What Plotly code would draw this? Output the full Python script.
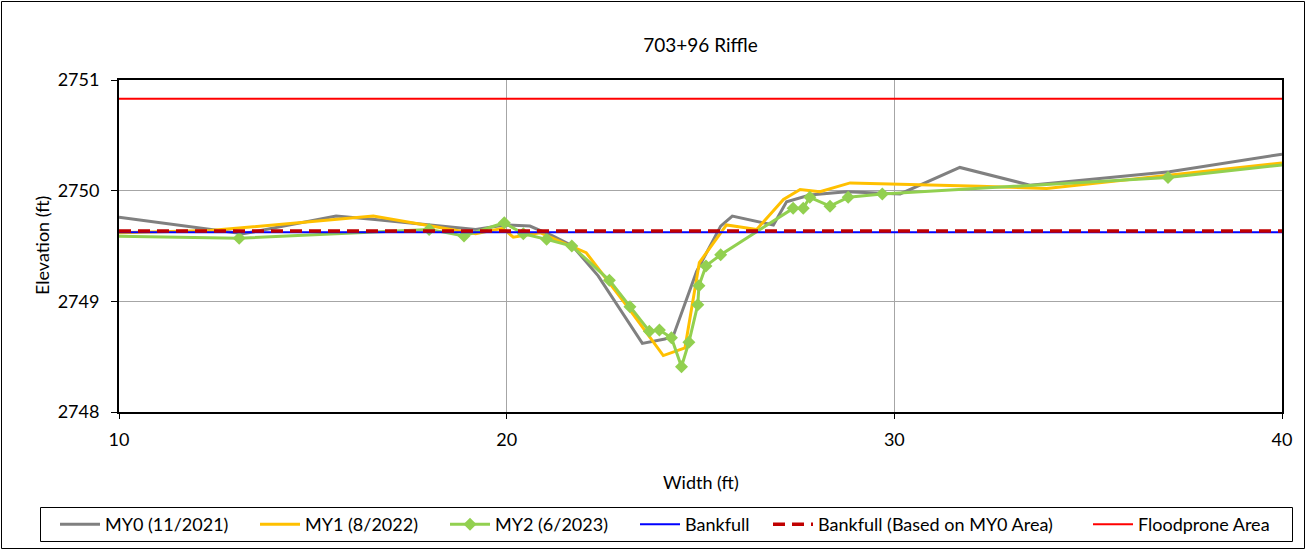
import plotly.graph_objects as go

# ---- data ----
my0_x = [10, 13.2, 15.6, 16.6, 19.2, 19.95, 20.6, 21.2, 21.7, 22.36, 23.5, 24.08, 24.3, 24.9,
         25.52, 25.82, 26.88, 27.22, 27.82, 28.77, 30.15, 31.69, 33.5, 37.1, 40]
my0_y = [2749.76, 2749.61, 2749.77, 2749.74, 2749.65, 2749.69, 2749.68, 2749.59, 2749.50, 2749.23,
         2748.62, 2748.66, 2748.69, 2749.27, 2749.68, 2749.77, 2749.69, 2749.90, 2749.96, 2749.99,
         2749.97, 2750.21, 2750.05, 2750.17, 2750.33]

my1_x = [10, 12.35, 16.56, 19.2, 19.9, 20.17, 20.86, 22.05, 23.1, 23.61, 24.04, 24.6, 24.97,
         25.67, 26.45, 27.14, 27.57, 28.08, 28.86, 32.2, 33.93, 40]
my1_y = [2749.62, 2749.64, 2749.77, 2749.61, 2749.66, 2749.58, 2749.62, 2749.44, 2748.96, 2748.72,
         2748.51, 2748.58, 2749.35, 2749.69, 2749.65, 2749.92, 2750.01, 2749.99, 2750.07, 2750.04,
         2750.02, 2750.25]

my2_x = [9.8, 13.1, 18.0, 18.9, 19.94, 20.43, 21.03, 21.68, 22.65, 23.18, 23.68, 23.94, 24.25,
         24.51, 24.70, 24.93, 24.96, 25.14, 25.52, 27.39, 27.65, 27.82, 28.34, 28.81, 29.69, 37.06, 40.2]
my2_y = [2749.59, 2749.57, 2749.65, 2749.59, 2749.71, 2749.61, 2749.56, 2749.50, 2749.19, 2748.95,
         2748.73, 2748.74, 2748.67, 2748.41, 2748.63, 2748.97, 2749.14, 2749.32, 2749.42, 2749.84,
         2749.84, 2749.94, 2749.86, 2749.94, 2749.97, 2750.12, 2750.24]

line_x = [10, 40]
bankfull_y = [2749.625, 2749.625]
bankfull_my0_y = [2749.635, 2749.635]
floodprone_y = [2750.83, 2750.83]

x_ticks = [10, 20, 30, 40]
y_ticks = [2748, 2749, 2750, 2751]

series_names = ["MY0 (11/2021)", "MY1 (8/2022)", "MY2 (6/2023)", "Bankfull",
                "Bankfull (Based on MY0 Area)", "Floodprone Area"]

FONT = "Lato"
FS = 18

W, H = 1306, 550
L, R, T, B = 119, 24, 80, 138
pw, ph = W - L - R, H - T - B

def px2paper_x(px):
    return (px - L) / pw

def px2paper_y(py):
    return (H - B - py) / ph

legend_ids = ["legend", "legend2", "legend3", "legend4", "legend5", "legend6"]
# left pixel of each legend entry's line sample
legend_left_px = [62, 262, 452, 642, 775, 1095]

fig = go.Figure()
fig.add_trace(go.Scatter(x=my0_x, y=my0_y, mode="lines", name=series_names[0], legend=legend_ids[0],
                         line=dict(color="#808080", width=3)))
fig.add_trace(go.Scatter(x=my1_x, y=my1_y, mode="lines", name=series_names[1], legend=legend_ids[1],
                         line=dict(color="#FFC000", width=3)))
fig.add_trace(go.Scatter(x=my2_x, y=my2_y, mode="lines+markers", name=series_names[2], legend=legend_ids[2],
                         line=dict(color="#92D050", width=3),
                         marker=dict(symbol="diamond", size=10, color="#92D050")))
fig.add_trace(go.Scatter(x=line_x, y=bankfull_y, mode="lines", name=series_names[3], legend=legend_ids[3],
                         line=dict(color="#0000FF", width=2)))
fig.add_trace(go.Scatter(x=line_x, y=bankfull_my0_y, mode="lines", name=series_names[4], legend=legend_ids[4],
                         line=dict(color="#C00000", width=3.5, dash="12px,7px")))
fig.add_trace(go.Scatter(x=line_x, y=floodprone_y, mode="lines", name=series_names[5], legend=legend_ids[5],
                         line=dict(color="#FF0000", width=2)))

legend_layouts = {}
for lid, lpx in zip(legend_ids, legend_left_px):
    legend_layouts[lid] = dict(orientation="h", x=px2paper_x(lpx - 7), xanchor="left",
                               y=px2paper_y(524.5), yanchor="middle",
                               borderwidth=0, bgcolor="rgba(0,0,0,0)",
                               font=dict(family=FONT, size=FS, color="#000000"), itemwidth=40)

fig.update_layout(
    width=W, height=H,
    margin=dict(l=L, r=R, t=T, b=B, autoexpand=False),
    paper_bgcolor="white", plot_bgcolor="white",
    font=dict(family=FONT, size=FS, color="#000000"),
    title=dict(text="703+96 Riffle", x=0.5, xref="paper", xanchor="center",
               y=1 - 45 / H, yref="container", yanchor="middle",
               font=dict(family=FONT, size=19, color="#000000")),
    xaxis=dict(range=[10, 40], tickvals=x_ticks, ticks="outside", ticklen=5, tickcolor="#000000",
               showline=True, linecolor="#000000", linewidth=2, mirror=True,
               showgrid=True, gridcolor="#A6A6A6", gridwidth=1, zeroline=False,
               ticklabelstandoff=5, tickfont=dict(size=FS)),
    yaxis=dict(range=[2748, 2751], tickvals=y_ticks, ticks="outside", ticklen=6, tickcolor="#000000",
               showline=True, linecolor="#000000", linewidth=2, mirror=True,
               showgrid=True, gridcolor="#A6A6A6", gridwidth=1, zeroline=False,
               ticklabelstandoff=8, tickfont=dict(size=FS)),
    showlegend=True,
    annotations=[
        dict(text="Width (ft)", x=0.5, xref="paper", y=px2paper_y(482), yref="paper",
             showarrow=False, xanchor="center", yanchor="middle", font=dict(size=FS)),
        dict(text="Elevation (ft)", x=px2paper_x(42), xref="paper", y=0.5, yref="paper",
             showarrow=False, xanchor="center", yanchor="middle", textangle=-90, font=dict(size=FS)),
    ],
    shapes=[
        # outer chart border
        dict(type="rect", xref="paper", yref="paper",
             x0=px2paper_x(1.5), x1=px2paper_x(1304.5), y0=px2paper_y(548.5), y1=px2paper_y(1.5),
             line=dict(color="#000000", width=1), layer="below"),
        # legend box
        dict(type="rect", xref="paper", yref="paper",
             x0=px2paper_x(40.5), x1=px2paper_x(1292.5), y0=px2paper_y(541.5), y1=px2paper_y(507.5),
             line=dict(color="#000000", width=1), fillcolor="white", layer="below"),
    ],
    **legend_layouts,
)

fig.write_html("out.html", config={"displayModeBar": False},
               post_script="document.body.style.margin='0';document.body.style.padding='0';")
